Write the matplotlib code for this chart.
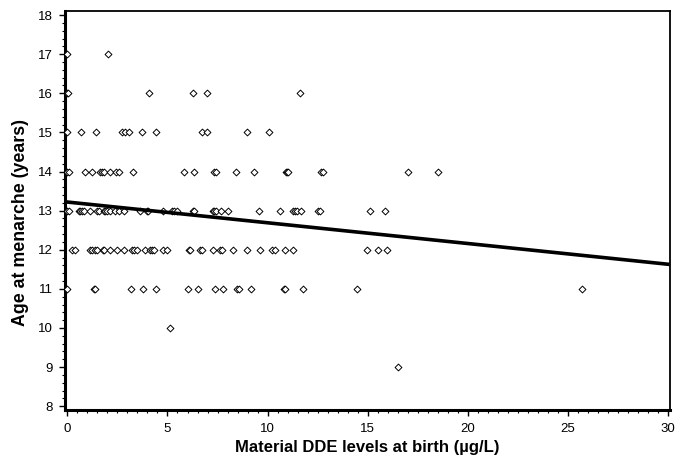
import numpy as np
import matplotlib
matplotlib.use("Agg")
import matplotlib.pyplot as plt
from matplotlib.ticker import MultipleLocator

plt.rcParams['font.family'] = ['Liberation Sans', 'DejaVu Sans']

# DDE levels (ug/L), grouped by age at menarche
dde_17 = [0.0, 2.03]
dde_16 = [0.0, 0.05, 4.1, 6.27, 6.97, 11.6]
dde_15 = [0.0, 0.68, 1.45, 2.73, 2.9, 3.06, 3.73, 4.44, 6.72, 6.97, 8.97, 10.05]
dde_14 = [0.0, 0.07, 0.87, 1.23, 1.65, 1.73, 1.81, 2.15, 2.43, 2.56, 3.26,
          5.81, 6.31, 7.3, 7.42, 8.44, 9.34, 10.9, 10.97, 11.0, 12.67, 12.76,
          17.04, 18.54]
dde_13 = [0.0, 0.07, 0.57, 0.65, 0.73, 0.81, 1.15, 1.48, 1.56, 1.81, 1.9,
          1.98, 2.15, 2.4, 2.56, 2.81, 3.61, 4.0, 4.05, 4.78, 5.23, 5.34, 5.48,
          6.28, 6.33, 7.28, 7.34, 7.42, 7.67, 8.0, 9.57, 10.6, 11.27, 11.38,
          11.47, 11.68, 12.51, 12.63, 15.14, 15.88]
dde_12 = [0.23, 0.4, 1.11, 1.23, 1.4, 1.48, 1.78, 1.85, 2.15, 2.48, 2.85,
          3.23, 3.31, 3.48, 3.86, 4.14, 4.23, 4.31, 4.78, 4.98, 6.06, 6.14,
          6.64, 6.72, 7.25, 7.64, 7.72, 8.27, 8.95, 9.6, 10.22, 10.38, 10.85,
          11.27, 14.96, 15.54, 15.99]
dde_11 = [0.0, 1.31, 1.4, 3.2, 3.76, 4.41, 6.04, 6.5, 7.35, 7.77, 8.47, 8.55,
          9.18, 10.8, 10.88, 11.76, 14.46, 25.7]
dde_10 = [5.15]
dde_9 = [16.54]

groups = {17: dde_17, 16: dde_16, 15: dde_15, 14: dde_14, 13: dde_13,
          12: dde_12, 11: dde_11, 10: dde_10, 9: dde_9}

# fitted regression line
intercept = 13.22
slope = -0.053

x_vals = []
y_vals = []
for age, lst in groups.items():
    x_vals.extend(lst)
    y_vals.extend([age] * len(lst))
x_vals = np.array(x_vals)
y_vals = np.array(y_vals)

fig = plt.figure(figsize=(6.88, 4.65), dpi=100)
ax = fig.add_axes([0.0945, 0.118, 0.88, 0.858])

ax.scatter(x_vals, y_vals, marker='D', s=12, facecolors='white',
           edgecolors='black', linewidths=0.7, zorder=3)

xl = np.array([0, 30])
ax.plot(xl, intercept + slope * xl, color='black', lw=2.6, zorder=4)

ax.set_xlim(-0.12, 30.13)
ax.set_ylim(7.9, 18.1)
ax.xaxis.set_major_locator(MultipleLocator(5))
ax.xaxis.set_minor_locator(MultipleLocator(0.5))
ax.yaxis.set_major_locator(MultipleLocator(1))
ax.yaxis.set_minor_locator(MultipleLocator(0.2))

ax.tick_params(which='major', direction='out', length=4, width=1,
               labelsize=9.5, pad=5)
ax.tick_params(which='minor', direction='out', length=2, width=0.8)

for side in ['top', 'right']:
    ax.spines[side].set_linewidth(1.3)
for side in ['left', 'bottom']:
    ax.spines[side].set_linewidth(2.2)

ax.set_xlabel('Material DDE levels at birth (\u00b5g/L)', fontsize=12,
              fontweight='bold', labelpad=4)
ax.set_ylabel('Age at menarche (years)', fontsize=12.8, fontweight='bold')
ax.yaxis.set_label_coords(-0.06, 0.471)

fig.savefig('out.png', dpi=100)
